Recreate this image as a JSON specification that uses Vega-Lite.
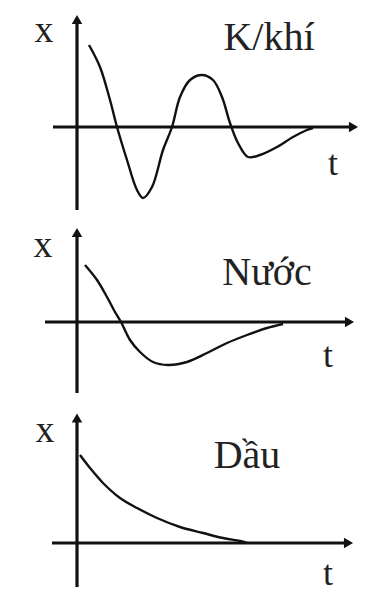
{
  "$schema": "https://vega.github.io/schema/vega-lite/v6.json",
  "padding": 0,
  "spacing": 0,
  "background": "white",
  "config": {
    "view": {"stroke": null},
    "concat": {"spacing": 0},
    "text": {"font": "Liberation Serif", "color": "#222"}
  },
  "vconcat": [
    {
      "width": 381,
      "height": 220,
      "encoding": {
        "x": {"field": "t", "type": "quantitative", "scale": {"domain": [-3.08, 12.16], "nice": false, "zero": false}, "axis": null},
        "y": {"field": "x", "type": "quantitative", "scale": {"domain": [-3.72, 5.08], "nice": false, "zero": false}, "axis": null}
      },
      "layer": [
        {
          "data": {"values": [
            {"t": 0, "x": -3.32, "t2": 0, "x2": 4.2},
            {"t": -0.96, "x": 0, "t2": 11.0, "x2": 0}
          ]},
          "mark": {"type": "rule", "strokeWidth": 3.2, "color": "#111"},
          "encoding": {"x2": {"field": "t2"}, "y2": {"field": "x2"}}
        },
        {
          "data": {"values": [{"t": 0, "x": 4.3}]},
          "mark": {"type": "point", "shape": "triangle-up", "filled": true, "size": 110, "opacity": 1, "fill": "#111", "strokeWidth": 0}
        },
        {
          "data": {"values": [{"t": 11.06, "x": 0}]},
          "mark": {"type": "point", "shape": "triangle-right", "filled": true, "size": 110, "opacity": 1, "fill": "#111", "strokeWidth": 0}
        },
        {
          "data": {"values": [
            {"t": 0.48, "x": 3.28}, {"t": 0.92, "x": 2.4}, {"t": 1.32, "x": 1.08},
            {"t": 1.6, "x": 0}, {"t": 2.0, "x": -1.32}, {"t": 2.4, "x": -2.52},
            {"t": 2.64, "x": -2.84}, {"t": 3.0, "x": -2.4}, {"t": 3.44, "x": -0.92},
            {"t": 3.8, "x": 0}, {"t": 4.12, "x": 1.2}, {"t": 4.52, "x": 1.88},
            {"t": 5.0, "x": 2.08}, {"t": 5.44, "x": 1.88}, {"t": 5.8, "x": 1.2},
            {"t": 6.12, "x": 0.16}, {"t": 6.44, "x": -0.64}, {"t": 6.84, "x": -1.2},
            {"t": 7.32, "x": -1.12}, {"t": 8.0, "x": -0.8}, {"t": 8.64, "x": -0.4},
            {"t": 9.2, "x": -0.12}, {"t": 9.44, "x": -0.04}
          ]},
          "mark": {"type": "line", "interpolate": "catmull-rom", "strokeWidth": 2.4, "color": "#111"}
        },
        {
          "data": {"values": [
            {"t": -1.32, "x": 3.4, "label": "x", "size": 38},
            {"t": 7.68, "x": 3.08, "label": "K/khí", "size": 40},
            {"t": 10.24, "x": -1.92, "label": "t", "size": 36}
          ]},
          "mark": {"type": "text", "align": "center", "baseline": "alphabetic"},
          "encoding": {
            "text": {"field": "label"},
            "size": {"field": "size", "type": "quantitative", "scale": null}
          }
        }
      ]
    },
    {
      "width": 381,
      "height": 180,
      "encoding": {
        "x": {"field": "t", "type": "quantitative", "scale": {"domain": [-3.08, 12.16], "nice": false, "zero": false}, "axis": null},
        "y": {"field": "x", "type": "quantitative", "scale": {"domain": [-3.12, 4.08], "nice": false, "zero": false}, "axis": null}
      },
      "layer": [
        {
          "data": {"values": [
            {"t": 0, "x": -2.84, "t2": 0, "x2": 3.48},
            {"t": -1.28, "x": 0, "t2": 10.84, "x2": 0}
          ]},
          "mark": {"type": "rule", "strokeWidth": 3.2, "color": "#111"},
          "encoding": {"x2": {"field": "t2"}, "y2": {"field": "x2"}}
        },
        {
          "data": {"values": [{"t": 0, "x": 3.58}]},
          "mark": {"type": "point", "shape": "triangle-up", "filled": true, "size": 110, "opacity": 1, "fill": "#111", "strokeWidth": 0}
        },
        {
          "data": {"values": [{"t": 10.9, "x": 0}]},
          "mark": {"type": "point", "shape": "triangle-right", "filled": true, "size": 110, "opacity": 1, "fill": "#111", "strokeWidth": 0}
        },
        {
          "data": {"values": [
            {"t": 0.32, "x": 2.28}, {"t": 0.8, "x": 1.68}, {"t": 1.2, "x": 1.0},
            {"t": 1.52, "x": 0.4}, {"t": 1.76, "x": 0}, {"t": 2.12, "x": -0.72},
            {"t": 2.52, "x": -1.2}, {"t": 3.04, "x": -1.6}, {"t": 3.64, "x": -1.72},
            {"t": 4.4, "x": -1.6}, {"t": 5.2, "x": -1.24}, {"t": 6.0, "x": -0.84},
            {"t": 6.8, "x": -0.52}, {"t": 7.6, "x": -0.24}, {"t": 8.24, "x": -0.08}
          ]},
          "mark": {"type": "line", "interpolate": "catmull-rom", "strokeWidth": 2.4, "color": "#111"}
        },
        {
          "data": {"values": [
            {"t": -1.36, "x": 2.6, "label": "x", "size": 38},
            {"t": 7.6, "x": 1.48, "label": "Nước", "size": 40},
            {"t": 10.04, "x": -1.8, "label": "t", "size": 36}
          ]},
          "mark": {"type": "text", "align": "center", "baseline": "alphabetic"},
          "encoding": {
            "text": {"field": "label"},
            "size": {"field": "size", "type": "quantitative", "scale": null}
          }
        }
      ]
    },
    {
      "width": 381,
      "height": 211,
      "encoding": {
        "x": {"field": "t", "type": "quantitative", "scale": {"domain": [-3.08, 12.16], "nice": false, "zero": false}, "axis": null},
        "y": {"field": "x", "type": "quantitative", "scale": {"domain": [-2.72, 5.72], "nice": false, "zero": false}, "axis": null}
      },
      "layer": [
        {
          "data": {"values": [
            {"t": 0, "x": -1.76, "t2": 0, "x2": 4.92},
            {"t": -1.0, "x": 0, "t2": 10.8, "x2": 0}
          ]},
          "mark": {"type": "rule", "strokeWidth": 3.2, "color": "#111"},
          "encoding": {"x2": {"field": "t2"}, "y2": {"field": "x2"}}
        },
        {
          "data": {"values": [{"t": 0, "x": 5.0}]},
          "mark": {"type": "point", "shape": "triangle-up", "filled": true, "size": 110, "opacity": 1, "fill": "#111", "strokeWidth": 0}
        },
        {
          "data": {"values": [{"t": 10.86, "x": 0}]},
          "mark": {"type": "point", "shape": "triangle-right", "filled": true, "size": 110, "opacity": 1, "fill": "#111", "strokeWidth": 0}
        },
        {
          "data": {"values": [
            {"t": 0.12, "x": 3.52}, {"t": 0.52, "x": 3.0}, {"t": 1.04, "x": 2.4},
            {"t": 1.72, "x": 1.8}, {"t": 2.4, "x": 1.4}, {"t": 3.2, "x": 1.0},
            {"t": 4.12, "x": 0.64}, {"t": 5.04, "x": 0.4}, {"t": 5.84, "x": 0.2},
            {"t": 6.52, "x": 0.08}, {"t": 6.8, "x": 0}
          ]},
          "mark": {"type": "line", "interpolate": "catmull-rom", "strokeWidth": 2.4, "color": "#111"}
        },
        {
          "data": {"values": [
            {"t": -1.28, "x": 4.04, "label": "x", "size": 38},
            {"t": 6.8, "x": 3.0, "label": "Dầu", "size": 40},
            {"t": 10.04, "x": -1.68, "label": "t", "size": 36}
          ]},
          "mark": {"type": "text", "align": "center", "baseline": "alphabetic"},
          "encoding": {
            "text": {"field": "label"},
            "size": {"field": "size", "type": "quantitative", "scale": null}
          }
        }
      ]
    }
  ]
}
